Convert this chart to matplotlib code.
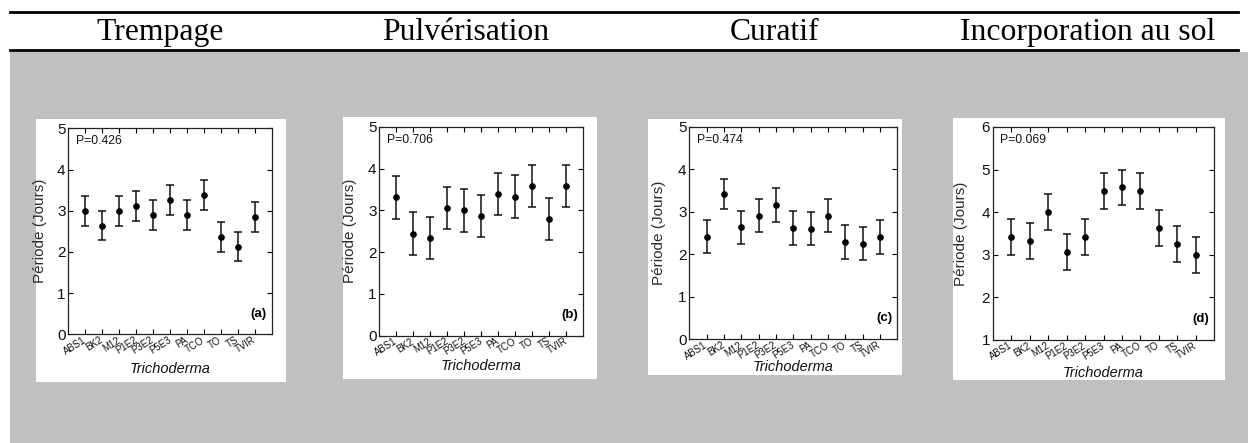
import matplotlib
matplotlib.use("Agg")
import matplotlib.pyplot as plt
from matplotlib.patches import Rectangle
from matplotlib.lines import Line2D

# ---------------- data ----------------
categories = ['ABS1', 'BK2', 'M12', 'P1E2', 'P3E2', 'P5E3', 'PA', 'TCO', 'TO', 'TS', 'TVIR']

headers = ['Trempage', 'Pulvérisation', 'Curatif', 'Incorporation au sol']

trempage_mean = [3.00, 2.64, 3.00, 3.12, 2.90, 3.26, 2.90, 3.38, 2.36, 2.13, 2.84]
trempage_err = [0.36, 0.36, 0.36, 0.36, 0.36, 0.36, 0.36, 0.36, 0.36, 0.36, 0.36]

pulv_mean = [3.31, 2.44, 2.34, 3.06, 3.00, 2.87, 3.40, 3.33, 3.59, 2.79, 3.59]
pulv_err = [0.51, 0.51, 0.51, 0.51, 0.51, 0.51, 0.50, 0.51, 0.51, 0.51, 0.51]

curatif_mean = [2.42, 3.43, 2.64, 2.91, 3.16, 2.62, 2.60, 2.91, 2.29, 2.25, 2.40]
curatif_err = [0.39, 0.35, 0.39, 0.39, 0.40, 0.39, 0.39, 0.39, 0.40, 0.39, 0.40]

sol_mean = [3.41, 3.33, 4.00, 3.06, 3.41, 4.49, 4.58, 4.49, 3.62, 3.25, 3.00]
sol_err = [0.42, 0.42, 0.42, 0.42, 0.42, 0.42, 0.42, 0.42, 0.42, 0.42, 0.42]

p_values = ['P=0.426', 'P=0.706', 'P=0.474', 'P=0.069']
panel_tags = ['(a)', '(b)', '(c)', '(d)']
y_limits = [(0, 5), (0, 5), (0, 5), (1, 6)]

# ---------------- layout ----------------
W, H = 1248, 443
fig = plt.figure(figsize=(W / 100, H / 100), dpi=100)
fig.patch.set_facecolor('white')


def fx(x):
    return x / W


def fy(y):
    return 1 - y / H


# gray background
fig.add_artist(Rectangle((fx(10), 0), fx(W) - fx(10), fy(51.5), transform=fig.transFigure,
                         facecolor='#c0c0c0', edgecolor='none', zorder=0))
# table rules
for yy in (11.5, 50.0):
    fig.add_artist(Line2D([fx(10), fx(1238)], [fy(yy), fy(yy)], transform=fig.transFigure,
                          color='black', lw=2.0, zorder=2))

header_x = [160, 466, 775, 1088]
for hx, txt in zip(header_x, headers):
    fig.text(fx(hx), fy(40), txt, ha='center', va='baseline', fontsize=22.8,
             family='Liberation Serif', color='black')

# white panels (l, t, r, b) in pixels
panels = [(36, 119, 286, 382), (343, 117, 597, 379), (648, 119, 902, 375), (953, 118, 1225, 380)]
# axes boxes (l, t, r, b)
axboxes = [(68.3, 128.3, 271.7, 334.3), (379.3, 127, 583.3, 335.5),
           (689.3, 127, 897.3, 339.3), (992.7, 127, 1214.3, 339.8)]
xlabel_y = [369, 366, 367, 373]
ylabel_x = [47, 357, 666, 968]

series = [(trempage_mean, trempage_err), (pulv_mean, pulv_err),
          (curatif_mean, curatif_err), (sol_mean, sol_err)]

font = 'Liberation Sans'
xs = list(range(len(categories)))

for i in range(4):
    l, t, r, b = panels[i]
    fig.add_artist(Rectangle((fx(l), fy(b)), fx(r) - fx(l), fy(t) - fy(b), transform=fig.transFigure,
                             facecolor='white', edgecolor='none', zorder=1))
    al, at, ar, ab = axboxes[i]
    ax = fig.add_axes([fx(al), fy(ab), fx(ar) - fx(al), fy(at) - fy(ab)], zorder=3)
    ax.set_facecolor('white')
    m, e = series[i]
    ax.errorbar(xs, m, yerr=e, fmt='o', color='black', ecolor='#111111', markersize=3.8,
                elinewidth=1.1, capsize=3.0, capthick=1.1)
    ax.set_xlim(-1, 11)
    ax.set_ylim(*y_limits[i])
    lo, hi = y_limits[i]
    ax.set_yticks(range(lo, hi + 1))
    ax.set_xticks(xs)
    ax.set_xticklabels(categories, rotation=32, ha='right', va='center', rotation_mode='anchor',
                       fontsize=6.9, family=font, color='#111111')
    ax.tick_params(axis='x', direction='in', top=True, length=3.5, width=0.8, pad=3.5)
    ax.tick_params(axis='y', direction='in', right=True, length=3.5, width=0.8, pad=2,
                   labelsize=11)
    for lab in ax.get_yticklabels():
        lab.set_family(font)
        lab.set_color('#111111')
    for s in ax.spines.values():
        s.set_linewidth(0.9)
        s.set_color('#222222')
    axw = ar - al
    axh = ab - at
    ax.set_ylabel('Période (Jours)', fontsize=11, family=font, color='#2a2a2a')
    ax.yaxis.set_label_coords(-(al - ylabel_x[i]) / axw, 0.5)
    ax.set_xlabel('Trichoderma', fontsize=10.5, family=font, style='italic', color='#111111')
    ax.xaxis.set_label_coords(0.5, -(xlabel_y[i] - ab) / axh)
    ax.xaxis.label.set_va('center')
    ax.text(7.7 / axw, 0.938, p_values[i], transform=ax.transAxes, ha='left', va='center',
            fontsize=8.8, family=font, color='#111111')
    ax.text(1 - 5 / axw, 0.098, panel_tags[i], transform=ax.transAxes, ha='right', va='center',
            fontsize=9.5, family=font, fontweight='bold', color='black')

fig.savefig('out.png', dpi=100, facecolor=fig.get_facecolor())
